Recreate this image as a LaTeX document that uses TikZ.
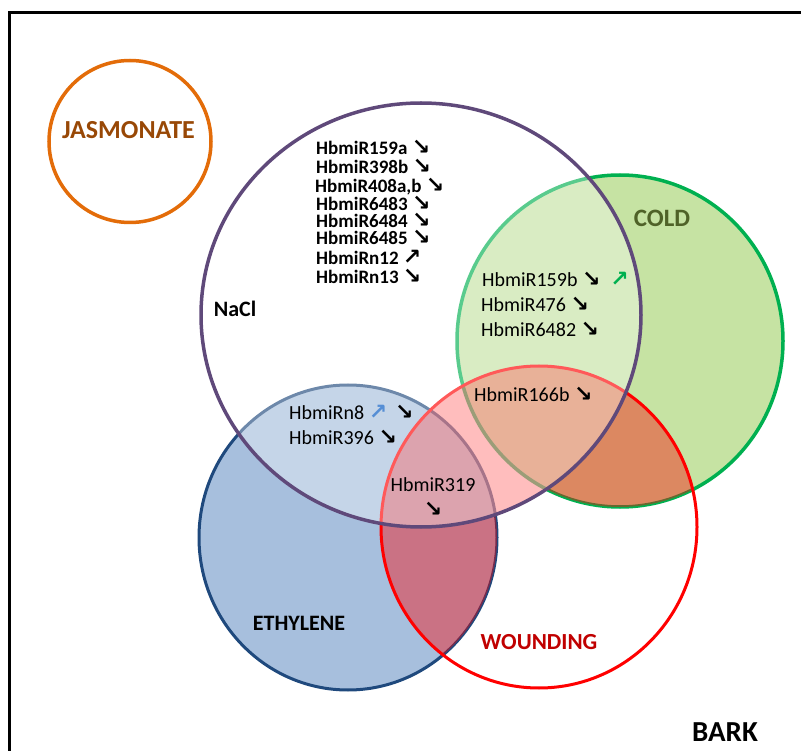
\documentclass[tikz,border=0pt]{standalone}
\usepackage{fontspec}
\setmainfont{Carlito}
\newfontfamily\arr{DejaVu Sans}
\begin{document}
\begin{tikzpicture}[x=1pt,y=-1pt]
\definecolor{ethfill}{RGB}{167,191,221}
\definecolor{ethline}{RGB}{31,73,125}
\definecolor{coldfill}{RGB}{198,227,163}
\definecolor{coldline}{RGB}{0,176,80}
\definecolor{naclline}{RGB}{95,73,122}
\definecolor{jasline}{RGB}{227,108,9}
\definecolor{jastext}{RGB}{152,72,6}
\definecolor{coldtext}{RGB}{79,98,40}
\definecolor{woundtext}{RGB}{192,0,0}
\definecolor{bluearrow}{RGB}{85,142,213}
\tikzset{
  cat/.style={font=\bfseries\fontsize{#1}{#1}\selectfont, inner sep=0pt},
  mirb/.style={anchor=base west, inner sep=0pt, font=\bfseries\fontsize{19}{19}\selectfont},
  mirr/.style={anchor=base west, inner sep=0pt, font=\fontsize{20}{20}\selectfont},
}
\newcommand{\dn}{\smash{\arr\bfseries\fontsize{22}{22}\selectfont ↘}}
\newcommand{\up}{\smash{\arr\bfseries\fontsize{22}{22}\selectfont ↗}}
\useasboundingbox (0,0) rectangle (801,751);
% frame
\draw[line width=3pt] (9.5,751) -- (9.5,12.5) -- (801,12.5);
% ethylene
\draw[fill=ethfill, draw=ethline, line width=3pt] (348,537.5) ellipse [x radius=149pt, y radius=152.5pt];
% cold
\draw[fill=coldfill, draw=coldline, line width=3.5pt] (620,341) ellipse [x radius=163pt, y radius=166pt];
% wounding fill, visible only over other sets
\begin{scope}
  \clip (348,537.5) ellipse [x radius=149pt, y radius=152.5pt]
        (620,341) ellipse [x radius=163pt, y radius=166pt]
        (421,315) ellipse [x radius=220pt, y radius=212pt];
  \fill[red, opacity=0.4] (539,527) ellipse [x radius=158pt, y radius=161pt];
\end{scope}
\draw[red, line width=3pt] (539,527) ellipse [x radius=158pt, y radius=161pt];
% NaCl
\fill[white, opacity=0.35] (421,315) ellipse [x radius=220pt, y radius=212pt];
\draw[naclline, line width=3.5pt] (421,315) ellipse [x radius=220pt, y radius=212pt];
% jasmonate
\draw[jasline, line width=3.5pt] (130,141.5) ellipse [x radius=81pt, y radius=81pt];

% category labels
\node[cat=26, text=jastext] (jas) at (128.5,130) {JASMONATE};
\node[cat=22] (nacl) at (235,309) {NaCl};
\node[cat=25, text=coldtext] (cold) at (662,218) {COLD};
\node[cat=22] (eth) at (299,623) {ETHYLENE};
\node[cat=23, text=woundtext] (wound) at (539,642) {WOUNDING};
\node[cat=29] (bark) at (725,732) {BARK};

% NaCl only
\node[mirb] (m1) at (316,155) {HbmiR159a \dn};
\node[mirb] (m2) at (316,174) {HbmiR398b \dn};
\node[mirb] (m3) at (315,193) {HbmiR408a,b \dn};
\node[mirb] (m4) at (316,211) {HbmiR6483 \dn};
\node[mirb] (m5) at (316,228) {HbmiR6484 \dn};
\node[mirb] (m6) at (316,245) {HbmiR6485 \dn};
\node[mirb] (m7) at (316,265) {HbmiRn12 \up};
\node[mirb] (m8) at (316,284) {HbmiRn13 \dn};
% NaCl & cold
\node[mirr] (c1) at (482,286.7) {HbmiR159b \dn\hspace{0.5em}\textcolor{coldline}{\up}};
\node[mirr] (c2) at (481,311.7) {HbmiR476 \dn};
\node[mirr] (c3) at (481,336.7) {HbmiR6482 \dn};
\node[mirr] (c4) at (474,401.7) {HbmiR166b \dn};
% NaCl & ethylene
\node[mirr] (e1) at (289,420) {HbmiRn8 \textcolor{bluearrow}{\up}\hspace{0.4em}\dn};
\node[mirr] (e2) at (289,444.3) {HbmiR396 \dn};
\node[mirr, align=center, anchor=north] (e3) at (433,477) {HbmiR319\\[5pt]\dn};
\end{tikzpicture}
\end{document}
